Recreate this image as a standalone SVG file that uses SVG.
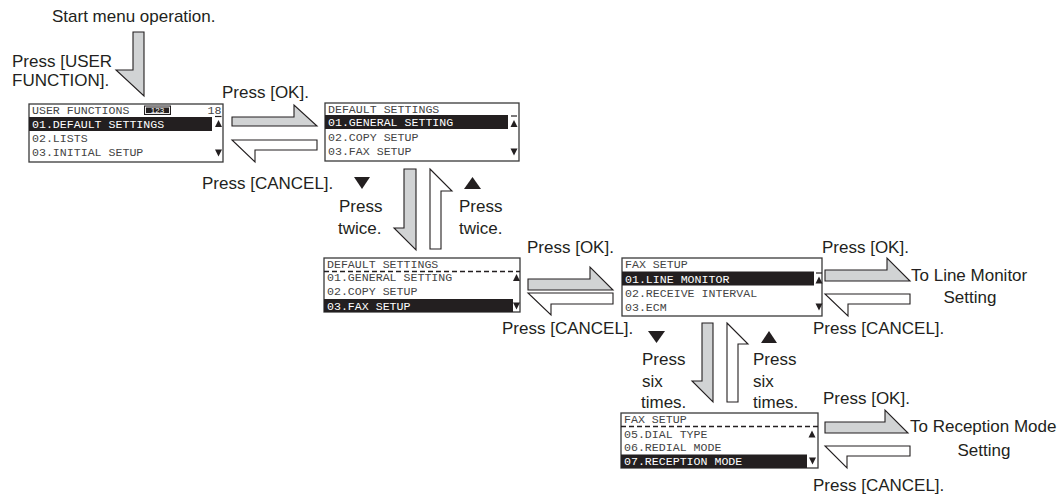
<svg xmlns="http://www.w3.org/2000/svg" width="1061" height="495" viewBox="0 0 1061 495">
<style>
.t{font-family:"Liberation Sans",Arial,sans-serif;font-size:17px;fill:#231f20}
.m{font-family:"Liberation Mono","Courier New",monospace;font-size:11.6px;fill:#444}
.w{fill:#fff}
.scr{fill:#fff;stroke:#3a3a3a;stroke-width:1.3}
.hl{fill:#231f20}
.ag{fill:#d1d3d4;stroke:#231f20;stroke-width:1.1}
.aw{fill:#fff;stroke:#231f20;stroke-width:1.1}
.tri{fill:#231f20}
.dash{stroke:#231f20;stroke-width:1.3;stroke-dasharray:5 3;fill:none}
.bar{stroke:#231f20;stroke-width:1.2}
</style>
<rect width="1061" height="495" fill="#fff"/>

<g id="connectors">
<polygon class="ag" points="133,32 144,32 144,96 116,70 133,70"/>
<polygon class="ag" points="232,117 294,117 294,105 317,126 232,126"/>
<polygon class="aw" points="317,140 232,140 255,162 255,150 317,150"/>
<polygon class="ag" points="404,169 416,169 416,250 394,228 404,228"/>
<polygon class="aw" points="430,169 452,191 441,191 441,249 430,249"/>
<polygon class="ag" points="528,279 590,279 590,267 613,290 528,290"/>
<polygon class="aw" points="613,293 528,293 551,315 551,304 613,304"/>
<polygon class="ag" points="825,270 887,270 887,258 910,281 825,281"/>
<polygon class="aw" points="910,294 825,294 848,316 848,304 910,304"/>
<polygon class="ag" points="702,323 713,323 713,402 692,381 702,381"/>
<polygon class="aw" points="727,323 748,344 738,344 738,402 727,402"/>
<polygon class="ag" points="825,422 885,422 885,410 908,433 825,433"/>
<polygon class="aw" points="910,446 825,446 847,468 847,456 910,456"/>
</g>

<g id="s1">
<rect class="scr" x="29" y="104" width="194" height="58"/>
<text class="m" x="32" y="113.5">USER FUNCTIONS</text>
<rect x="144" y="105.5" width="27" height="9.5" fill="#231f20"/>
<rect x="145.5" y="107" width="24" height="6.5" fill="none" stroke="#fff" stroke-width="0.9"/>
<text x="157.5" y="113.2" font-family="Liberation Sans,Arial,sans-serif" font-size="8" fill="#fff" text-anchor="middle">123</text>
<text class="m" x="221.5" y="113.5" text-anchor="end">18</text>
<line class="bar" x1="215" y1="116.5" x2="221.5" y2="116.5"/>
<rect class="hl" x="29" y="117" width="183" height="14"/>
<text class="m w" x="32" y="128">01.DEFAULT SETTINGS</text>
<polygon class="tri" points="215,127 222,127 218.5,120"/>
<text class="m" x="32" y="142">02.LISTS</text>
<text class="m" x="32" y="156">03.INITIAL SETUP</text>
<polygon class="tri" points="215,149.5 222,149.5 218.5,156.5"/>
</g>

<g id="s2">
<rect class="scr" x="325" y="103" width="194" height="58"/>
<text class="m" x="328" y="112.5">DEFAULT SETTINGS</text>
<rect class="hl" x="325" y="115" width="183" height="14"/>
<text class="m w" x="328" y="126">01.GENERAL SETTING</text>
<line class="bar" x1="511" y1="116" x2="517" y2="116"/>
<polygon class="tri" points="510.5,127 517.5,127 514,120"/>
<text class="m" x="328" y="140.5">02.COPY SETUP</text>
<text class="m" x="328" y="155">03.FAX SETUP</text>
<polygon class="tri" points="510.5,148.5 517.5,148.5 514,155.5"/>
</g>

<g id="s3">
<rect class="scr" x="324" y="258" width="196" height="54"/>
<text class="m" x="327" y="267.5">DEFAULT SETTINGS</text>
<line class="dash" x1="324" y1="271.5" x2="520" y2="271.5"/>
<text class="m" x="327" y="281">01.GENERAL SETTING</text>
<polygon class="tri" points="513,281 520,281 516.5,274"/>
<text class="m" x="327" y="295">02.COPY SETUP</text>
<rect class="hl" x="324" y="299" width="189" height="13"/>
<text class="m w" x="327" y="309.5">03.FAX SETUP</text>
<polygon class="tri" points="513,302.5 520,302.5 516.5,309.5"/>
</g>

<g id="s4">
<rect class="scr" x="622" y="258" width="200" height="58"/>
<text class="m" x="625" y="268">FAX SETUP</text>
<rect class="hl" x="622" y="271.5" width="192" height="14"/>
<text class="m w" x="625" y="282.5">01.LINE MONITOR</text>
<line class="bar" x1="816" y1="273" x2="822" y2="273"/>
<polygon class="tri" points="815.5,283.5 822.5,283.5 819,276.5"/>
<text class="m" x="625" y="296.5">02.RECEIVE INTERVAL</text>
<text class="m" x="625" y="310.5">03.ECM</text>
<polygon class="tri" points="815.5,303.5 822.5,303.5 819,310.5"/>
</g>

<g id="s5">
<rect class="scr" x="621" y="413" width="197" height="55"/>
<text class="m" x="624" y="422.5">FAX SETUP</text>
<line class="dash" x1="621" y1="426.5" x2="818" y2="426.5"/>
<text class="m" x="624" y="437.5">05.DIAL TYPE</text>
<polygon class="tri" points="808.5,437.5 815.5,437.5 812,430.5"/>
<text class="m" x="624" y="451">06.REDIAL MODE</text>
<rect class="hl" x="621" y="454.5" width="186" height="13.5"/>
<text class="m w" x="624" y="465">07.RECEPTION MODE</text>
<polygon class="tri" points="809,457.5 816,457.5 812.5,464.5"/>
</g>

<g id="labels">
<text class="t" x="52" y="22">Start menu operation.</text>
<text class="t" x="12" y="67">Press [USER</text>
<text class="t" x="12" y="86">FUNCTION].</text>
<text class="t" x="222" y="98">Press [OK].</text>
<text class="t" x="202" y="189">Press [CANCEL].</text>
<polygon class="tri" points="354,177 370,177 362,189"/>
<text class="t" x="339" y="212">Press</text>
<text class="t" x="338" y="234">twice.</text>
<polygon class="tri" points="464,189 481,189 472.5,177"/>
<text class="t" x="459" y="212">Press</text>
<text class="t" x="459" y="234">twice.</text>
<text class="t" x="527" y="253">Press [OK].</text>
<text class="t" x="502" y="334">Press [CANCEL].</text>
<polygon class="tri" points="648,331 665,331 656.5,343"/>
<text class="t" x="642" y="365">Press</text>
<text class="t" x="642" y="387">six</text>
<text class="t" x="641" y="408">times.</text>
<polygon class="tri" points="761,343 777,343 769,331"/>
<text class="t" x="753" y="365">Press</text>
<text class="t" x="753" y="387">six</text>
<text class="t" x="753" y="408">times.</text>
<text class="t" x="822" y="253">Press [OK].</text>
<text class="t" x="911" y="281">To Line Monitor</text>
<text class="t" x="970" y="303" text-anchor="middle">Setting</text>
<text class="t" x="813" y="334">Press [CANCEL].</text>
<text class="t" x="823" y="404">Press [OK].</text>
<text class="t" x="910" y="432">To Reception Mode</text>
<text class="t" x="984" y="456" text-anchor="middle">Setting</text>
<text class="t" x="813" y="491">Press [CANCEL].</text>
</g>
</svg>
